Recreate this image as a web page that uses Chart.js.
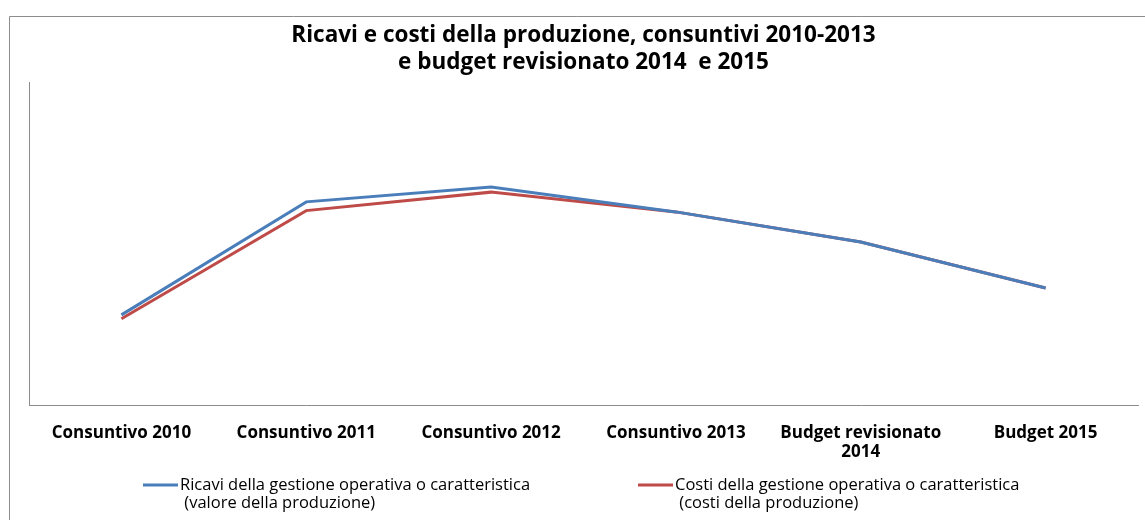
<!DOCTYPE html>
<html>
<head>
<meta charset="utf-8">
<script src="https://cdn.jsdelivr.net/npm/chart.js@4"></script>
<style>
  html, body { margin: 0; padding: 0; background: #fff; }
  #wrap { width: 1145px; height: 520px; position: relative; }
</style>
</head>
<body>
<div id="wrap"><canvas id="chart"></canvas></div>
<script>
// categories and values (no y ticks in the original, relative units)
const categories = ['Consuntivo 2010', 'Consuntivo 2011', 'Consuntivo 2012', 'Consuntivo 2013', ['Budget revisionato', '2014'], 'Budget 2015'];
const ricavi = [28.1, 63.0, 67.6, 59.9, 50.6, 36.4];
const costi = [26.9, 60.3, 66.0, 59.9, 50.6, 36.4];
const legendLabels = [
  ['Ricavi della gestione operativa o caratteristica', ' (valore della produzione)'],
  ['Costi della gestione operativa o caratteristica', ' (costi della produzione)']
];
const titleLines = ['Ricavi e costi della produzione, consuntivi 2010-2013', 'e budget revisionato 2014  e 2015'];

const FONT = "'Open Sans', 'DejaVu Sans', sans-serif";

// outer frame + custom two-line legend
const frameAndLegend = {
  id: 'frameAndLegend',
  beforeDraw(chart) {
    const ctx = chart.ctx;
    ctx.save();
    ctx.fillStyle = '#fff';
    ctx.fillRect(0, 0, chart.width, chart.height);
    ctx.strokeStyle = '#8c8c8c';
    ctx.lineWidth = 1;
    ctx.beginPath();
    ctx.moveTo(9.5, chart.height);
    ctx.lineTo(9.5, 16.5);
    ctx.lineTo(chart.width, 16.5);
    ctx.stroke();
    ctx.restore();
  },
  afterDraw(chart) {
    const ctx = chart.ctx;
    const slots = [143, 638];
    ctx.save();
    ctx.font = '16.5px ' + FONT;
    ctx.textBaseline = 'middle';
    chart.data.datasets.forEach((ds, i) => {
      const x = slots[i];
      const y = 485;
      ctx.strokeStyle = ds.borderColor;
      ctx.lineWidth = 3;
      ctx.beginPath();
      ctx.moveTo(x, y);
      ctx.lineTo(x + 35, y);
      ctx.stroke();
      ctx.fillStyle = '#000';
      legendLabels[i].forEach((t, j) => {
        ctx.fillText(t, x + 37, y + j * 18);
      });
    });
    ctx.restore();
  }
};

new Chart(document.getElementById('chart'), {
  type: 'line',
  data: {
    labels: categories,
    datasets: [
      {
        label: legendLabels[0].join(' '),
        data: ricavi,
        borderColor: '#4a7ebb',
        borderWidth: 3,
        pointRadius: 0,
        tension: 0
      },
      {
        label: legendLabels[1].join(' '),
        data: costi,
        borderColor: '#be4b48',
        borderWidth: 3,
        pointRadius: 0,
        tension: 0
      }
    ]
  },
  options: {
    responsive: true,
    maintainAspectRatio: false,
    animation: false,
    layout: { padding: { left: 29, right: 7, top: 0, bottom: 40 } },
    plugins: {
      legend: { display: false },
      tooltip: { enabled: false },
      title: {
        display: true,
        text: titleLines,
        color: '#000',
        font: { family: FONT, size: 22.5, weight: 'bold', lineHeight: 1.2 },
        padding: { top: 22, bottom: 6 }
      }
    },
    scales: {
      x: {
        offset: true,
        grid: { color: 'transparent', drawTicks: false },
        border: { display: true, color: '#8c8c8c', width: 1 },
        ticks: {
          color: '#000',
          maxRotation: 0,
          autoSkip: false,
          padding: 18,
          font: { family: FONT, size: 17, weight: 'bold', lineHeight: 1.12 }
        }
      },
      y: {
        min: 0,
        max: 100,
        grid: { color: 'transparent', drawTicks: false },
        border: { display: true, color: '#8c8c8c', width: 1 },
        ticks: { display: false }
      }
    }
  },
  plugins: [frameAndLegend]
});
</script>
</body>
</html>
